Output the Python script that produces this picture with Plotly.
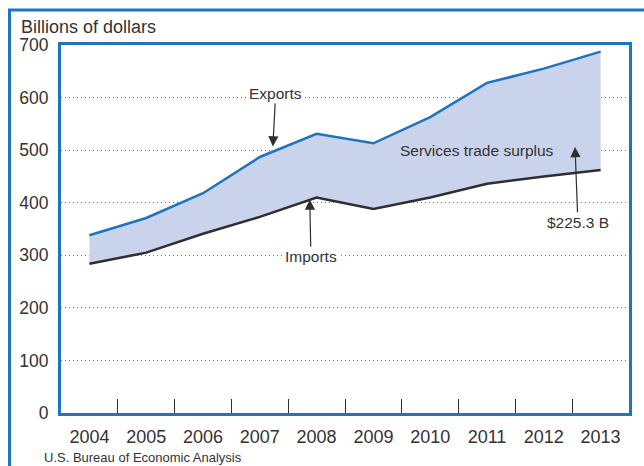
import plotly.graph_objects as go

# Services trade, billions of dollars
years = [2004, 2005, 2006, 2007, 2008, 2009, 2010, 2011, 2012, 2013]
exports = [338, 371, 418, 487, 531, 513, 563, 628, 655, 687.4]
imports = [284, 305, 341, 373, 410, 388, 410, 436, 450, 462.1]
y_ticks = [0, 100, 200, 300, 400, 500, 600, 700]
surplus_2013 = exports[-1] - imports[-1]

BLUE = "#1f74bd"
FILL = "#c9d3eb"
DARK = "#2e2e2e"
TEXT = "#333333"
FONT = "Liberation Sans"

fig = go.Figure()
fig.add_trace(go.Scatter(
    x=years, y=imports, mode="lines",
    line=dict(color=DARK, width=2.5), hoverinfo="skip", showlegend=False,
))
fig.add_trace(go.Scatter(
    x=years, y=exports, mode="lines", fill="tonexty", fillcolor=FILL,
    line=dict(color=BLUE, width=2.5), hoverinfo="skip", showlegend=False,
))

annots = [
    dict(x=2007.23, y=507, ax=2007.28, ay=608, text="Exports", bgcolor="white"),
    dict(x=2007.88, y=406, ax=2007.9, ay=297, text="Imports", bgcolor="white"),
    dict(x=2012.55, y=506, ax=2012.6, ay=363, text="$%.1f B" % surplus_2013, bgcolor="rgba(0,0,0,0)"),
]
for a in annots:
    fig.add_annotation(
        x=a["x"], y=a["y"], ax=a["ax"], ay=a["ay"], axref="x", ayref="y",
        text=a["text"], showarrow=True, arrowhead=2, arrowsize=1.7, arrowwidth=1.2,
        arrowcolor=DARK, bgcolor=a["bgcolor"], borderpad=1,
        font=dict(family=FONT, size=15.5, color=TEXT),
    )
fig.add_annotation(
    x=2010.82, y=500, text="Services trade surplus", showarrow=False,
    bgcolor=FILL, borderpad=1, font=dict(family=FONT, size=15.5, color=TEXT),
)

fig.add_annotation(
    x=(19 - 61) / 568, y=(413 - 27) / 368, xref="paper", yref="paper",
    xanchor="left", yanchor="middle", text="Billions of dollars", showarrow=False,
    font=dict(family=FONT, size=18, color=TEXT),
)
fig.add_annotation(
    x=(42 - 61) / 568, y=(413 - 457) / 368, xref="paper", yref="paper",
    xanchor="left", yanchor="middle", text="U.S. Bureau of Economic Analysis", showarrow=False,
    font=dict(family=FONT, size=13, color=TEXT),
)

# outer frame, running off the right and bottom edges
fig.add_shape(
    type="rect", xref="paper", yref="paper",
    x0=(9.5 - 61) / 568, x1=1.2, y0=-0.4, y1=(413 - 10) / 368,
    line=dict(color=BLUE, width=3), fillcolor="rgba(0,0,0,0)", layer="above",
)

fig.update_layout(
    width=644, height=466,
    margin=dict(l=61, r=15, t=45, b=53),
    paper_bgcolor="white", plot_bgcolor="white",
    font=dict(family=FONT, size=18, color=TEXT),
    xaxis=dict(
        range=[2003.5, 2013.5], tickvals=years, ticks="", showgrid=False,
        showline=True, mirror=True, linecolor=BLUE, linewidth=3,
        ticklabelstandoff=5, zeroline=False,
        minor=dict(tickvals=[y + 0.5 for y in years[:-1]], ticks="inside",
                   ticklen=14, tickcolor=DARK, tickwidth=1, showgrid=False),
        tickfont=dict(family=FONT, size=18, color=TEXT),
    ),
    yaxis=dict(
        range=[0, 700], tickvals=y_ticks, ticks="", showgrid=True,
        gridcolor="#7a7a7a", griddash="1px,3px", gridwidth=1,
        showline=True, mirror=True, linecolor=BLUE, linewidth=3,
        zeroline=False, ticklabelstandoff=6,
        tickfont=dict(family=FONT, size=17.5, color=TEXT),
    ),
)

fig.write_html("out.html")
